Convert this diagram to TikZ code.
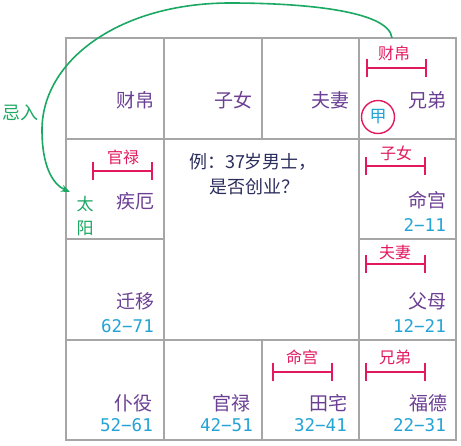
\documentclass[tikz,border=0pt]{standalone}
\usepackage{fontspec}
\setmainfont{Noto Sans CJK SC}
\newfontfamily\numfont{DejaVu Sans Mono}
\usetikzlibrary{arrows.meta}
\definecolor{gridc}{HTML}{A6A6A6}
\definecolor{palc}{HTML}{6B3F93}
\definecolor{numc}{HTML}{23A3D6}
\definecolor{pinkc}{HTML}{E2195F}
\definecolor{greenc}{HTML}{1BA862}
\definecolor{navyc}{HTML}{2B2D5C}
\begin{document}
\begin{tikzpicture}[x=1pt,y=-1pt,
  cellbox/.style={draw=gridc,line width=2.2pt},
  palname/.style={text=palc,anchor=east,inner sep=0pt,font=\fontsize{19}{19}\selectfont},
  agenum/.style={text=numc,anchor=east,inner sep=0pt,font=\numfont\fontsize{17.5}{17.5}\selectfont},
  pinklbl/.style={text=pinkc,inner sep=0pt,font=\fontsize{16}{16}\selectfont},
  bracketline/.style={draw=pinkc,line width=2.4pt},
  greentxt/.style={text=greenc,inner sep=0pt,font=\fontsize{17}{17}\selectfont}]
\useasboundingbox (0,0) rectangle (461,445);
% grid cells
\draw[cellbox] (66,38) rectangle (164,139);
\draw[cellbox] (164,38) rectangle (262,139);
\draw[cellbox] (262,38) rectangle (359,139);
\draw[cellbox] (359,38) rectangle (456,139);
\draw[cellbox] (66,139) rectangle (164,239);
\draw[cellbox] (66,239) rectangle (164,340);
\draw[cellbox] (359,139) rectangle (456,239);
\draw[cellbox] (359,239) rectangle (456,340);
\draw[cellbox] (164,139) rectangle (359,340);
\draw[cellbox] (66,340) rectangle (164,440);
\draw[cellbox] (164,340) rectangle (262,440);
\draw[cellbox] (262,340) rectangle (359,440);
\draw[cellbox] (359,340) rectangle (456,440);
% top row
\node[palname] (caibo) at (155,100) {财帛};
\node[palname] (zinv) at (253,100) {子女};
\node[palname] (fuqi) at (350,100) {夫妻};
\node[palname] (xiongdi) at (447,100) {兄弟};
\node[pinklbl] (l1) at (394,53) {财帛};
\draw[bracketline] (367,68) -- (426,68);
\draw[bracketline] (367,59) -- (367,77);
\draw[bracketline] (426,59) -- (426,77);
\node[draw=pinkc,circle,line width=1.4pt,minimum size=33pt,inner sep=0pt,text=numc,font=\fontsize{17}{17}\selectfont] (jia) at (378,117) {甲};
% row 2
\node[pinklbl] (l2) at (123,157) {官禄};
\draw[bracketline] (93,171) -- (152,171);
\draw[bracketline] (93,162) -- (93,180);
\draw[bracketline] (152,162) -- (152,180);
\node[palname] (jie) at (155,201) {疾厄};
\node[greentxt] (tai) at (85,204) {太};
\node[greentxt] (yang) at (85,228) {阳};
\node[text=navyc,inner sep=0pt,font=\fontsize{18}{18}\selectfont] (q1) at (253,162) {例：37岁男士，};
\node[text=navyc,inner sep=0pt,font=\fontsize{18}{18}\selectfont] (q2) at (254,187) {是否创业？};
\node[pinklbl] (l3) at (396,153) {子女};
\draw[bracketline] (366,166) -- (425,166);
\draw[bracketline] (366,157) -- (366,175);
\draw[bracketline] (425,157) -- (425,175);
\node[palname] (ming) at (447,200) {命宫};
\node[agenum] (n1) at (446,225) {2−11};
% row 3
\node[palname] (qian) at (155,301) {迁移};
\node[agenum] (n2) at (154,326) {62−71};
\node[pinklbl] (l4) at (395,252) {夫妻};
\draw[bracketline] (366,264) -- (425,264);
\draw[bracketline] (366,255) -- (366,273);
\draw[bracketline] (425,255) -- (425,273);
\node[palname] (fumu) at (447,301) {父母};
\node[agenum] (n3) at (446,326) {12−21};
% row 4
\node[palname] (puyi) at (153,403) {仆役};
\node[agenum] (n4) at (153,425) {52−61};
\node[palname] (guan) at (251,403) {官禄};
\node[agenum] (n5) at (253,425) {42−51};
\node[pinklbl] (l5) at (302,357) {命宫};
\draw[bracketline] (273,372) -- (332,372);
\draw[bracketline] (273,363) -- (273,381);
\draw[bracketline] (332,363) -- (332,381);
\node[palname] (tian) at (348,403) {田宅};
\node[agenum] (n6) at (347,425) {32−41};
\node[pinklbl] (l6) at (395,357) {兄弟};
\draw[bracketline] (366,372) -- (425,372);
\draw[bracketline] (366,363) -- (366,381);
\draw[bracketline] (425,363) -- (425,381);
\node[palname] (fude) at (448,403) {福德};
\node[agenum] (n7) at (446,425) {22−31};
% arrow
\node[greentxt,font=\fontsize{18}{18}\selectfont] (jiru) at (20,113) {忌入};
\coordinate (arrS) at (392,38);
\coordinate (arrE) at (70,192);
\draw[draw=greenc,line width=1.6pt,-{Stealth[length=9pt,width=7pt]}]
  (arrS) .. controls (389,10) and (300,3) .. (230,3)
  .. controls (120,3) and (42,60) .. (42,130)
  .. controls (42,165) and (52,184) .. (arrE);
\end{tikzpicture}
\end{document}
